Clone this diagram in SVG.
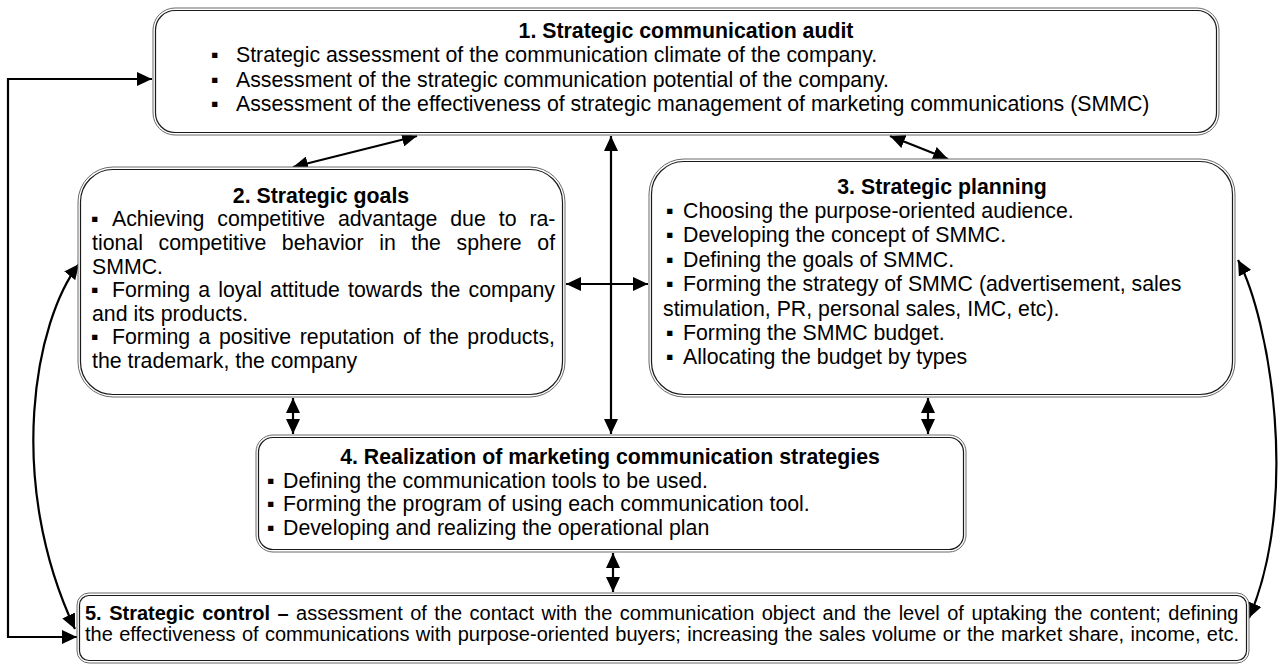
<svg xmlns="http://www.w3.org/2000/svg" width="1282" height="666" viewBox="0 0 1282 666">
<style>
.bo{fill:#fff;stroke:#6a6a6a;stroke-width:1}
.bi{fill:none;stroke:#1a1a1a;stroke-width:1.2}
text{font-family:"Liberation Sans",Arial,"DejaVu Sans",sans-serif;font-size:21.3px;fill:#000}
.t{font-weight:bold;text-anchor:middle}
.b{font-weight:bold}
.s5{font-size:20px}
.c{fill:none;stroke:#000;stroke-width:2.2}
</style>
<defs>
<marker id="ah" viewBox="0 0 15 14" refX="15" refY="7" markerWidth="15" markerHeight="14" markerUnits="userSpaceOnUse" orient="auto-start-reverse">
<path d="M0,0 L15,7 L0,14 z" fill="#000"/>
</marker>
</defs>
<g id="connectors">
<path class="c" d="M77,637 H8 V79 H152" marker-start="url(#ah)" marker-end="url(#ah)"/>
<path class="c" d="M79,264 C35,320 5,480 75,629" marker-start="url(#ah)" marker-end="url(#ah)"/>
<path class="c" d="M1238,260 C1270,320 1300,500 1249,618" marker-start="url(#ah)" marker-end="url(#ah)"/>
<line class="c" x1="293" y1="167" x2="417" y2="136" marker-start="url(#ah)" marker-end="url(#ah)"/>
<line class="c" x1="890" y1="136" x2="948" y2="159" marker-start="url(#ah)" marker-end="url(#ah)"/>
<line class="c" x1="611" y1="136" x2="611" y2="434" marker-start="url(#ah)" marker-end="url(#ah)"/>
<line class="c" x1="566" y1="284" x2="648" y2="284" marker-start="url(#ah)" marker-end="url(#ah)"/>
<line class="c" x1="293" y1="398" x2="293" y2="434" marker-start="url(#ah)" marker-end="url(#ah)"/>
<line class="c" x1="928" y1="398" x2="928" y2="434" marker-start="url(#ah)" marker-end="url(#ah)"/>
<line class="c" x1="613" y1="553" x2="613" y2="592" marker-start="url(#ah)" marker-end="url(#ah)"/>
</g>
<g id="node1">
<rect class="bo" x="153" y="8" width="1066" height="127" rx="22"/>
<rect class="bi" x="155.5" y="10.5" width="1061" height="122" rx="19.5"/>
<text class="t" x="686" y="37.5">1. Strategic communication audit</text>
<text x="211" y="62">▪</text><text x="236" y="62">Strategic assessment of the communication climate of the company.</text>
<text x="211" y="87">▪</text><text x="236" y="87">Assessment of the strategic communication potential of the company.</text>
<text x="211" y="111">▪</text><text x="236" y="111">Assessment of the effectiveness of strategic management of marketing communications (SMMC)</text>
</g>
<g id="node2">
<rect class="bo" x="78" y="167" width="487" height="230" rx="35"/>
<rect class="bi" x="80.5" y="169.5" width="482" height="225" rx="32.5"/>
<text class="t" x="321" y="202.5">2. Strategic goals</text>
<text x="91" y="226">▪</text><text x="112" y="226" word-spacing="7">Achieving competitive advantage due to ra-</text>
<text x="92" y="250" word-spacing="9.7">tional competitive behavior in the sphere of</text>
<text x="92" y="273.5">SMMC.</text>
<text x="91" y="297">▪</text><text x="112" y="297" word-spacing="2.2">Forming a loyal attitude towards the company</text>
<text x="92" y="320.5">and its products.</text>
<text x="91" y="344">▪</text><text x="112" y="344" word-spacing="2.6">Forming a positive reputation of the products,</text>
<text x="92" y="368">the trademark, the company</text>
</g>
<g id="node3">
<rect class="bo" x="649" y="159" width="586" height="238" rx="35"/>
<rect class="bi" x="651.5" y="161.5" width="581" height="233" rx="32.5"/>
<text class="t" x="942" y="193.5">3. Strategic planning</text>
<text x="666" y="218">▪</text><text x="683" y="218">Choosing the purpose-oriented audience.</text>
<text x="666" y="242">▪</text><text x="683" y="242">Developing the concept of SMMC.</text>
<text x="666" y="267">▪</text><text x="683" y="267">Defining the goals of SMMC.</text>
<text x="666" y="291">▪</text><text x="683" y="291">Forming the strategy of SMMC (advertisement, sales</text>
<text x="663" y="315.5">stimulation, PR, personal sales, IMC, etc).</text>
<text x="666" y="340">▪</text><text x="683" y="340">Forming the SMMC budget.</text>
<text x="666" y="364">▪</text><text x="683" y="364">Allocating the budget by types</text>
</g>
<g id="node4">
<rect class="bo" x="256" y="435" width="710" height="117" rx="17"/>
<rect class="bi" x="258.5" y="437.5" width="705" height="112" rx="14.5"/>
<text class="t" x="610" y="464">4. Realization of marketing communication strategies</text>
<text x="267" y="487.5">▪</text><text x="283" y="487.5">Defining the communication tools to be used.</text>
<text x="267" y="511">▪</text><text x="283" y="511">Forming the program of using each communication tool.</text>
<text x="267" y="534.5">▪</text><text x="283" y="534.5">Developing and realizing the operational plan</text>
</g>
<g id="node5">
<rect class="bo" x="77" y="593" width="1172" height="70" rx="12"/>
<rect class="bi" x="79.5" y="595.5" width="1167" height="65" rx="9.5"/>
<text class="s5" x="85" y="619.5" word-spacing="1.9"><tspan class="b">5. Strategic control –</tspan> assessment of the contact with the communication object and the level of uptaking the content; defining</text>
<text class="s5" x="85" y="641" word-spacing="0.8">the effectiveness of communications with purpose-oriented buyers; increasing the sales volume or the market share, income, etc.</text>
</g>
</svg>
